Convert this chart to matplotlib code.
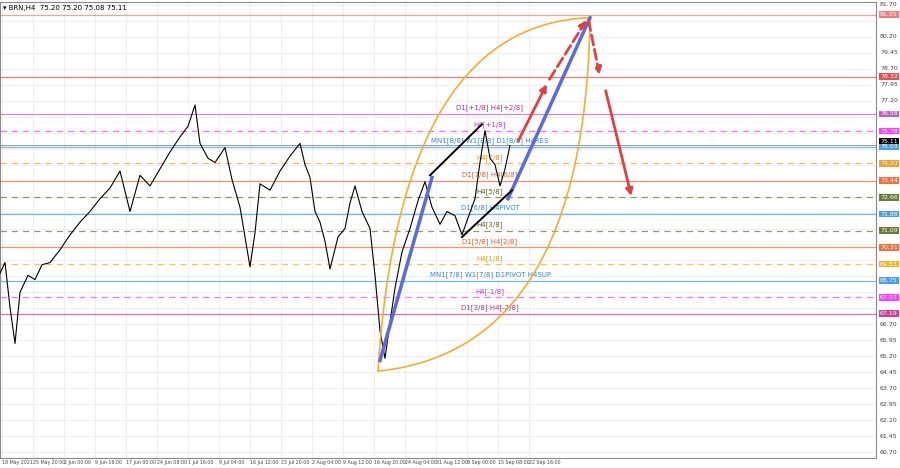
import matplotlib
matplotlib.use("Agg")
import matplotlib.pyplot as plt
import numpy as np

# price path (bar position, price)
bar_x = [0, 5, 10, 15, 20, 28, 35, 42, 50, 60, 70, 80, 90, 100, 110, 120, 130, 140, 150, 160,
         170, 180, 188, 195, 200, 208, 215, 225, 232, 240, 245, 250, 255, 260, 270, 280, 290, 300,
         305, 310, 315, 320, 325, 330, 338, 345, 350, 355, 362, 370, 375, 380, 385, 390, 395, 402,
         410, 418, 425, 432, 440, 447, 455, 462, 468, 475, 480, 485, 490, 495, 500, 505, 510]
close = [69.1, 69.6, 67.5, 65.8, 68.2, 69.0, 68.8, 69.5, 69.6, 70.2, 70.9, 71.5, 72.0, 72.6, 73.1,
         73.9, 72.0, 73.7, 73.2, 74.0, 74.8, 75.5, 76.0, 77.0, 75.2, 74.5, 74.3, 75.0, 73.5, 72.2,
         70.8, 69.4, 71.0, 73.3, 73.0, 73.9, 74.6, 75.2, 74.2, 73.6, 72.0, 71.5, 70.6, 69.3, 70.8,
         71.2, 72.4, 73.2, 72.0, 71.2, 69.0, 66.4, 65.1, 66.8, 68.4, 70.1, 71.2, 72.5, 73.4, 72.2,
         71.4, 72.0, 71.8, 70.9, 71.7, 72.6, 74.3, 75.8, 74.5, 74.2, 73.2, 74.0, 75.1]

# levels: price, colour, dashed?, label
lvl_price = [81.25, 78.32, 76.58, 75.78, 75.03, 74.27, 73.44, 72.66, 71.88, 71.09, 70.31, 69.53, 68.75, 67.97, 67.19]
lvl_color = ["#f08080", "#e05050", "#c060c0", "#ff40ff", "#4a9cf0", "#f0a030", "#f07040", "#6b7a3a",
             "#4a9cf0", "#6b7a3a", "#f07040", "#f0b030", "#4a9cf0", "#ff40ff", "#d04090"]
lvl_dash = [False, False, False, True, False, True, False, True, False, True, False, True, False, True, False]
lvl_label = ["", "", "D1[+1/8] H4[+2/8]", "H4[+1/8]", "MN1[8/8] W1[8/8] D1[8/8] H4RES", "H4[7/8]",
             "D1[7/8] H4[6/8]", "H4[5/8]", "D1[6/8] H4PIVOT", "H4[3/8]", "D1[5/8] H4[2/8]", "H4[1/8]",
             "MN1[7/8] W1[7/8] D1PIVOT H4SUP", "H4[-1/8]", "D1[3/8] H4[-2/8]"]
lvl_text = ["#c04040", "#c04040", "#b03090", "#d030d0", "#3a8ad8", "#e09020", "#e06030", "#5a6a2a",
            "#3a8ad8", "#5a6a2a", "#e06030", "#e0a020", "#3a8ad8", "#d030d0", "#b03090"]

date_pos = [2, 33, 64, 95, 126, 157, 188, 219, 250, 281, 312, 343, 374, 405, 436, 467, 498, 529]
date_labels = ["18 May 2021", "25 May 20:00", "2 Jun 00:00", "9 Jun 16:00", "17 Jun 00:00", "24 Jun 08:00",
               "1 Jul 16:00", "9 Jul 04:00", "16 Jul 12:00", "23 Jul 20:00", "2 Aug 04:00", "9 Aug 12:00",
               "16 Aug 20:00", "24 Aug 04:00", "31 Aug 12:00", "8 Sep 00:00", "15 Sep 08:00", "22 Sep 16:00"]
price_ticks = [60.70 + 0.75 * k for k in range(29)]

# drawn objects (bar, price)
blue_lines = [((380, 65.0), (432, 73.6)), ((508, 72.6), (590, 81.1))]
black_lines = [((430, 73.7), (482, 76.1)), ((462, 70.8), (512, 73.0))]
red_solid = [((517, 75.2), (548, 78.1)), ((605, 77.8), (632, 72.6))]
red_dashed = [((548, 78.1), (588, 81.1)), ((588, 81.1), (600, 78.3))]
arc_start, arc_end = (378, 64.5), (590, 81.1)
arc_ctrl_upper, arc_ctrl_lower = (400, 80.8), (585, 65.5)
current_price = 75.11

fig = plt.figure(figsize=(9, 4.68), dpi=100)
ax = fig.add_axes([0.0, 10 / 468, 876 / 900, 456 / 468])
ax.set_xlim(0, 876)
ax.set_ylim(60.42, 81.84)

for p in price_ticks:
    ax.axhline(p, color="#ececec", lw=0.6, zorder=0)
for x in date_pos:
    ax.axvline(x, color="#ececec", lw=0.6, zorder=0)

for p, c, d, lab, tc in zip(lvl_price, lvl_color, lvl_dash, lvl_label, lvl_text):
    ax.axhline(p, color=c, lw=0.9, ls=(0, (5, 4)) if d else "-", alpha=0.75, zorder=1)
    if lab:
        ax.text(490, p + 0.12, lab, color=tc, fontsize=5, ha="center", va="bottom", zorder=2)
ax.axhline(current_price, color="#888888", lw=0.6, zorder=1)

ax.plot(bar_x, close, color="black", lw=0.8, zorder=3)


def bez(p0, p1, p2):
    t = np.linspace(0, 1, 100)[:, None]
    pts = (1 - t) ** 2 * np.array(p0) + 2 * (1 - t) * t * np.array(p1) + t ** 2 * np.array(p2)
    return pts[:, 0], pts[:, 1]


for ctrl in (arc_ctrl_upper, arc_ctrl_lower):
    bx, by = bez(arc_start, ctrl, arc_end)
    ax.plot(bx, by, color="#f0b030", lw=1.2, zorder=4)

for a, b in blue_lines:
    ax.plot([a[0], b[0]], [a[1], b[1]], color="#5a6ae0", lw=2.5, zorder=5)
for a, b in black_lines:
    ax.plot([a[0], b[0]], [a[1], b[1]], color="black", lw=1.4, zorder=5)
for a, b in red_solid:
    ax.annotate("", xy=b, xytext=a, arrowprops=dict(arrowstyle="-|>", color="#e04040", lw=2, mutation_scale=10), zorder=6)
for a, b in red_dashed:
    ax.annotate("", xy=b, xytext=a, arrowprops=dict(arrowstyle="-|>", color="#e04040", lw=2, ls="--", mutation_scale=10), zorder=6)

ax.set_xticks([])
ax.set_yticks([])
for s in ax.spines.values():
    s.set_color("#888888")
    s.set_linewidth(0.8)

# right price scale: plain ticks hidden where a level box sits
boxed = lvl_price + [current_price]
for p in price_ticks:
    if min(abs(p - b) for b in boxed) < 0.3:
        continue
    ax.text(880, p, f"{p:.2f}", fontsize=4.5, color="#444444", va="center", ha="left", clip_on=False)
for p, c in zip(lvl_price, lvl_color):
    ax.text(880, p, f"{p:.2f}", fontsize=4.5, color="white", va="center", ha="left", clip_on=False,
            bbox=dict(boxstyle="square,pad=0.15", fc=c, ec="none"))
ax.text(880, current_price + 0.2, f"{current_price:.2f}", fontsize=4.5, color="white", va="center", ha="left",
        clip_on=False, bbox=dict(boxstyle="square,pad=0.15", fc="black", ec="none"))

for x, lab in zip(date_pos, date_labels):
    ax.text(x, 60.42 - 0.08, lab, fontsize=3.4, color="#444444", ha="left", va="top", clip_on=False)

ax.text(3, 81.55, "\u25be BRN,H4  75.20 75.20 75.08 75.11", fontsize=5, color="black", va="center")

fig.savefig("out.png", dpi=100)
